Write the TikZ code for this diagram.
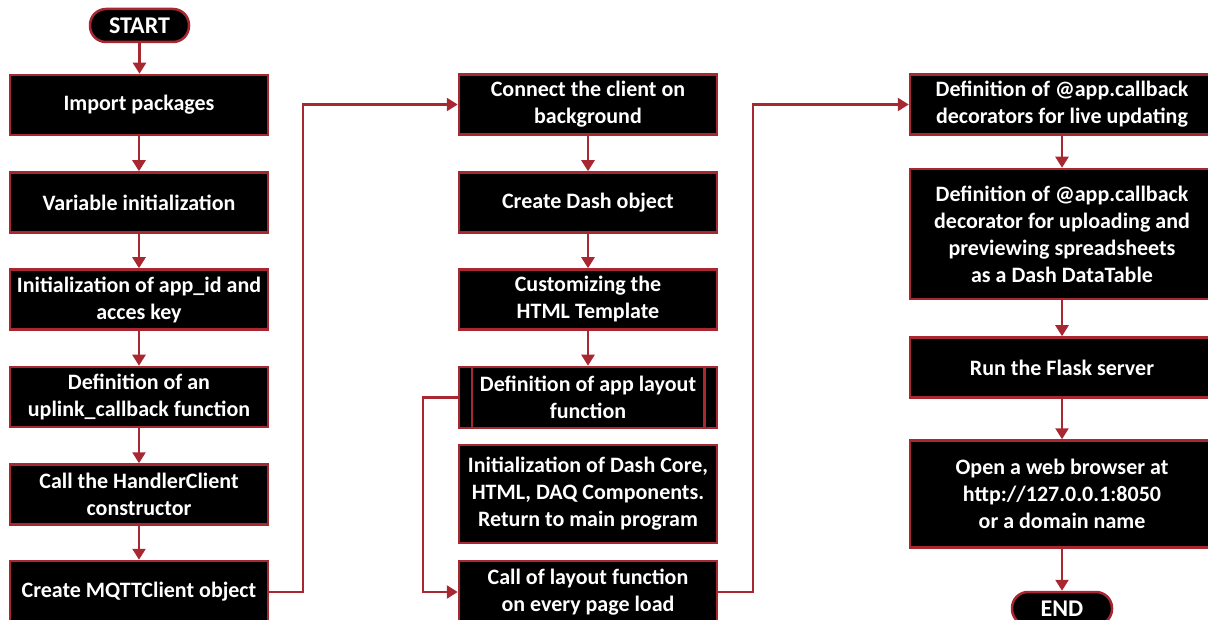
\documentclass[tikz,border=0pt]{standalone}
\usepackage{fontspec}
\setmainfont{Carlito}
\usetikzlibrary{arrows.meta}
\definecolor{lnred}{RGB}{168,40,50}
\tikzset{
  box/.style={draw=lnred, fill=black, line width=2.5pt, text=white, font=\bfseries\fontsize{22}{27}\selectfont, align=center, inner sep=0pt, anchor=center},
  pill/.style={box, rounded corners=16pt, font=\bfseries\fontsize{24}{28}\selectfont},
  flow/.style={draw=lnred, line width=2.5pt, -{Triangle[length=11pt,width=13pt]}},
}
\begin{document}
\begin{tikzpicture}[x=1pt,y=-1pt]
\useasboundingbox (0,0) rectangle (1208,620);
% column 1
\node[pill, minimum width=99pt, minimum height=33pt] (start) at (139.5,25.5) {START};
\node[box, minimum width=258pt, minimum height=60pt] (a1) at (139,105) {Import packages};
\node[box, minimum width=258pt, minimum height=60pt] (a2) at (139,202.5) {Variable initialization};
\node[box, minimum width=258pt, minimum height=60pt] (a3) at (139,299.5) {Initialization of app\_id and\\acces key};
\node[box, minimum width=258pt, minimum height=60pt] (a4) at (139,397) {Definition of an\\uplink\_callback function};
\node[box, minimum width=258pt, minimum height=60pt] (a5) at (139,494.5) {Call the HandlerClient\\constructor};
\node[box, minimum width=258pt, minimum height=62pt] (a6) at (139,592) {Create MQTTClient object};
% column 2
\node[box, minimum width=258pt, minimum height=60pt] (b1) at (588,104.5) {Connect the client on\\background};
\node[box, minimum width=258pt, minimum height=60pt] (b2) at (588,202.5) {Create Dash object};
\node[box, minimum width=258pt, minimum height=60pt] (b3) at (588,299.5) {Customizing the\\HTML Template};
\node[box, minimum width=258pt, minimum height=61pt] (b4) at (588,397.5) {Definition of app layout\\function};
\draw[lnred, line width=2.5pt] ([xshift=14pt]b4.north west) -- ([xshift=14pt]b4.south west);
\draw[lnred, line width=2.5pt] ([xshift=-14pt]b4.north east) -- ([xshift=-14pt]b4.south east);
\node[box, minimum width=258pt, minimum height=98pt] (b5) at (588,494) {Initialization of Dash Core,\\HTML, DAQ Components.\\Return to main program};
\node[box, minimum width=258pt, minimum height=62pt] (b6) at (588,592) {Call of layout function\\on every page load};
% column 3
\node[box, minimum width=304pt, minimum height=60pt] (c1) at (1062,104.5) {Definition of @app.callback\\decorators for live updating};
\node[box, minimum width=304pt, minimum height=130pt] (c2) at (1062,234) {Definition of @app.callback\\decorator for uploading and\\previewing spreadsheets\\as a Dash DataTable};
\node[box, minimum width=304pt, minimum height=60pt] (c3) at (1062,367.5) {Run the Flask server};
\node[box, minimum width=304pt, minimum height=107pt] (c4) at (1062,494) {Open a web browser at\\http://127.0.0.1:8050\\or a domain name};
\node[pill, minimum width=100pt, minimum height=33pt] (end) at (1062,608.5) {END};
% vertical flows
\coordinate (ca) at (139,0);
\draw[flow] (start.south) -- (start.south |- a1.north);
\draw[flow] (a1.south -| ca) -- (a2.north -| ca);
\draw[flow] (a2.south -| ca) -- (a3.north -| ca);
\draw[flow] (a3.south -| ca) -- (a4.north -| ca);
\draw[flow] (a4.south -| ca) -- (a5.north -| ca);
\draw[flow] (a5.south -| ca) -- (a6.north -| ca);
\draw[flow] (b1.south) -- (b2.north);
\draw[flow] (b2.south) -- (b3.north);
\draw[flow] (b3.south) -- (b4.north);
\draw[flow] (c1.south) -- (c2.north);
\draw[flow] (c2.south) -- (c3.north);
\draw[flow] (c3.south) -- (c4.north);
\draw[flow] (c4.south) -- (end.north);
% cross-column flows
\coordinate (k1) at (303,0);
\coordinate (k2) at (423,0);
\coordinate (k3) at (753,0);
\draw[flow] (a6.east) -- (a6.east -| k1) |- (b1.west);
\draw[flow] (b4.west) -- (b4.west -| k2) |- (b6.west);
\draw[flow] (b6.east) -- (b6.east -| k3) |- (c1.west);
\end{tikzpicture}
\end{document}
